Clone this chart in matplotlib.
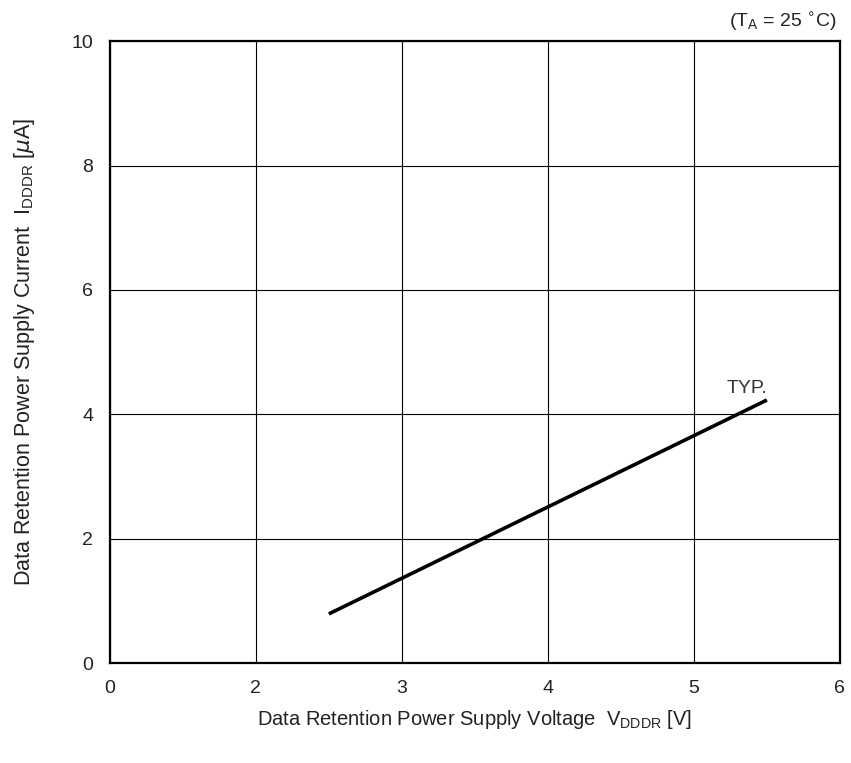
import matplotlib.pyplot as plt

plt.rcParams['font.family'] = ['Liberation Sans', 'DejaVu Sans']

# x axis is drawn on equal steps: 0, 2, 3, 4, 5, 6
x_labels = ['0', '2', '3', '4', '5', '6']
x_values = [0, 2, 3, 4, 5, 6]

# TYP. curve
v_dddr = [2.5, 5.5]
i_dddr = [0.79, 4.23]


def to_pos(v):
    # map voltage to the equally spaced axis positions
    if v <= 2:
        return v / 2.0
    return v - 1.0


fig = plt.figure(figsize=(8.51, 7.63), dpi=100)
ax = fig.add_axes([0.129, 0.131, 0.858, 0.815])

ax.plot([to_pos(v) for v in v_dddr], i_dddr, color='black', lw=2.6, solid_capstyle='butt')

ax.set_xlim(0, 5)
ax.set_ylim(0, 10)
ax.set_xticks(range(len(x_labels)))
ax.set_xticklabels(x_labels)
ax.set_yticks([0, 2, 4, 6, 8, 10])
ax.tick_params(length=0, labelsize=14, colors='#222222')
ax.tick_params(axis='x', pad=12)
ax.tick_params(axis='y', pad=12)
ax.grid(True, color='black', lw=0.8)
for s in ax.spines.values():
    s.set_linewidth(1.6)

ax.text(5.5 - 1.0, 4.28, 'TYP.', fontsize=14, ha='right', va='bottom', color='#333333')
ax.text(0.997, 1.012, r'(T$_{\mathregular{A}}$ = 25 $^{\circ}$C)', transform=ax.transAxes,
        fontsize=14, ha='right', va='bottom', color='#222222')

ax.set_xlabel(r'Data Retention Power Supply Voltage  V$_{\mathregular{DDDR}}$ [V]',
              fontsize=14.5, labelpad=8, color='#222222')
ax.set_ylabel(r'Data Retention Power Supply Current  I$_{\mathregular{DDDR}}$ [$\mu$A]',
              fontsize=15.5, labelpad=25, color='#222222')

plt.savefig('out.png')
